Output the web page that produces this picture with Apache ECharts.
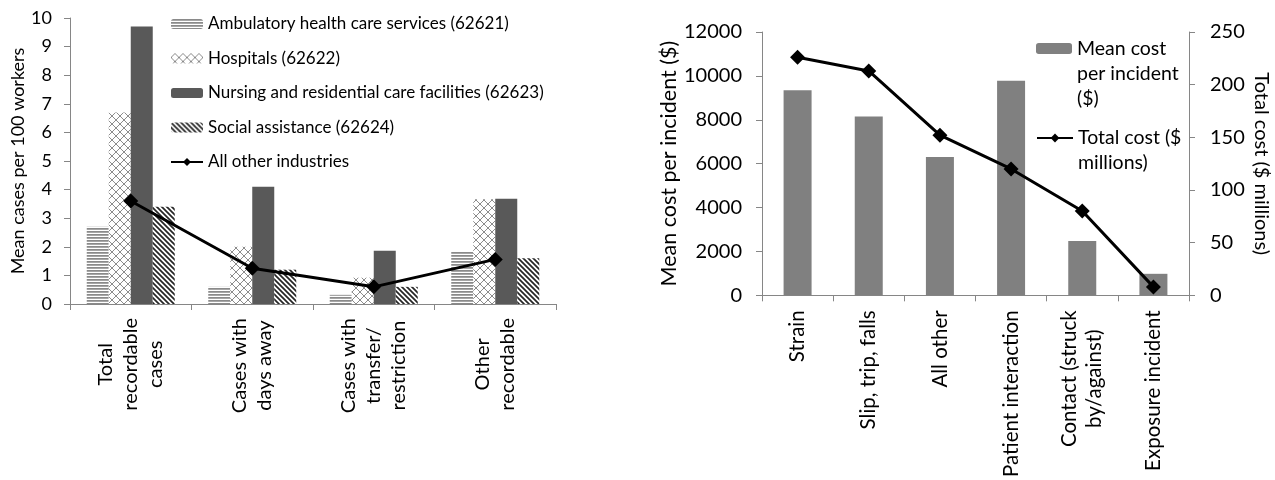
<!DOCTYPE html>
<html>
<head>
<meta charset="utf-8">
<script src="https://cdn.jsdelivr.net/npm/echarts@6/dist/echarts.min.js"></script>
<style>
html,body{margin:0;padding:0;background:#fff;}
#chart{width:1275px;height:480px;}
</style>
</head>
<body>
<div id="chart"></div>
<script>
// ---- Data: left chart ----
const leftCategories = ['Total\nrecordable\ncases', 'Cases with\ndays away', 'Cases with\ntransfer/\nrestriction', 'Other\nrecordable'];
const ambulatory = [2.7, 0.6, 0.32, 1.83];
const hospitals = [6.7, 2.0, 0.92, 3.66];
const nursing = [9.7, 4.1, 1.86, 3.68];
const social = [3.4, 1.2, 0.6, 1.6];
const allOther = [3.6, 1.25, 0.6, 1.56];
const leftTicks = { min: 0, max: 10, interval: 1 };

// ---- Data: right chart ----
const rightCategories = ['Strain', 'Slip, trip, falls', 'All other', 'Patient interaction', 'Contact (struck\nby/against)', 'Exposure incident'];
const meanCost = [9350, 8150, 6300, 9780, 2480, 980];
const totalCost = [226, 213, 152, 120, 80, 8];
const rightLeftTicks = { min: 0, max: 12000, interval: 2000 };
const rightRightTicks = { min: 0, max: 250, interval: 50 };

const seriesNames = {
  amb: 'Ambulatory health care services (62621)',
  hosp: 'Hospitals (62622)',
  nurs: 'Nursing and residential care facilities (62623)',
  soc: 'Social assistance (62624)',
  other: 'All other industries',
  mean: 'Mean cost per incident ($)',
  total: 'Total cost ($ millions)'
};
// Wrapped legend text; leading blank lines keep the first line level with the icon
const legendWrapped = {
  'Mean cost per incident ($)': '\n\nMean cost\nper incident\n($)',
  'Total cost ($ millions)': '\nTotal cost ($\nmillions)'
};

// ---- Patterns ----
function makePattern(w, h, draw) {
  const c = document.createElement('canvas');
  c.width = w; c.height = h;
  const ctx = c.getContext('2d');
  ctx.fillStyle = '#ffffff';
  ctx.fillRect(0, 0, w, h);
  draw(ctx, w, h);
  return { image: c, repeat: 'repeat' };
}
const patAmb = makePattern(4, 3, (ctx) => {
  ctx.fillStyle = '#8a8a8a'; ctx.fillRect(0, 0, 4, 1);
  ctx.fillStyle = '#a6a6a6'; ctx.fillRect(0, 1, 4, 1);
});
const patHosp = makePattern(8, 8, (ctx) => {
  ctx.strokeStyle = '#8c8c8c'; ctx.lineWidth = 1;
  ctx.beginPath();
  ctx.moveTo(0, 4); ctx.lineTo(4, 0); ctx.lineTo(8, 4); ctx.lineTo(4, 8); ctx.closePath();
  ctx.stroke();
});
const patSoc = makePattern(5, 5, (ctx) => {
  ctx.strokeStyle = '#262626'; ctx.lineWidth = 1.7;
  ctx.beginPath();
  ctx.moveTo(-1, -1); ctx.lineTo(6, 6);
  ctx.moveTo(-1, 4); ctx.lineTo(1, 6);
  ctx.moveTo(4, -1); ctx.lineTo(6, 1);
  ctx.stroke();
});

const axisGray = '#868686';
const FONT = 'Lato';

function wrapLabel(v) {
  return String(v).split('\n').map(l => '{c|' + l + '}').join('\n');
}
function xLabel(fontSize, margin) {
  return {
    rotate: 90, interval: 0, margin: margin, color: '#000',
    fontFamily: FONT, fontSize: fontSize,
    formatter: wrapLabel,
    rich: { c: { align: 'center', fontFamily: FONT, fontSize: fontSize, lineHeight: 25, color: '#000' } }
  };
}
function yLabel(fontSize, margin) {
  return { fontSize: fontSize, color: '#000', margin: margin, fontFamily: FONT, formatter: (v) => String(v) };
}
const axisLineStyle = { show: true, lineStyle: { color: axisGray, width: 1 } };
const axisTickStyle = { show: true, length: 6, lineStyle: { color: axisGray, width: 1 } };

const chart = echarts.init(document.getElementById('chart'));
const option = {
  animation: false,
  backgroundColor: '#fff',
  textStyle: { fontFamily: FONT },
  grid: [
    { left: 70, top: 18, width: 486, height: 286 },
    { left: 762, top: 32, width: 427, height: 265 }
  ],
  xAxis: [
    { type: 'category', gridIndex: 0, data: leftCategories, axisLine: axisLineStyle, axisTick: axisTickStyle, axisLabel: xLabel(20, 14) },
    { type: 'category', gridIndex: 1, data: rightCategories, axisLine: axisLineStyle, axisTick: axisTickStyle, axisLabel: xLabel(20.5, 15) }
  ],
  yAxis: [
    {
      type: 'value', gridIndex: 0, min: leftTicks.min, max: leftTicks.max, interval: leftTicks.interval,
      name: 'Mean cases per 100 workers', nameLocation: 'middle', nameRotate: 90, nameGap: 40,
      nameTextStyle: { fontSize: 18, color: '#000', fontFamily: FONT },
      axisLine: axisLineStyle, axisTick: axisTickStyle, splitLine: { show: false },
      axisLabel: yLabel(18, 18)
    },
    {
      type: 'value', gridIndex: 1, min: rightLeftTicks.min, max: rightLeftTicks.max, interval: rightLeftTicks.interval,
      name: 'Mean cost per incident ($)', nameLocation: 'middle', nameRotate: 90, nameGap: 82,
      nameTextStyle: { fontSize: 21.5, color: '#000', fontFamily: FONT },
      axisLine: axisLineStyle, axisTick: axisTickStyle, splitLine: { show: false },
      axisLabel: yLabel(20, 20)
    },
    {
      type: 'value', gridIndex: 1, position: 'right', min: rightRightTicks.min, max: rightRightTicks.max, interval: rightRightTicks.interval,
      name: 'Total cost ($ millions)', nameLocation: 'middle', nameRotate: -90, nameGap: 62,
      nameTextStyle: { fontSize: 20, color: '#000', fontFamily: FONT },
      axisLine: axisLineStyle, axisTick: axisTickStyle, splitLine: { show: false },
      axisLabel: yLabel(20, 21)
    }
  ],
  legend: [
    {
      orient: 'vertical', left: 170, top: 13, padding: 0, itemGap: 12.5,
      itemWidth: 32, itemHeight: 10,
      textStyle: { fontSize: 17, color: '#000', fontFamily: FONT, lineHeight: 22 },
      data: [seriesNames.amb, seriesNames.hosp, seriesNames.nurs, seriesNames.soc, seriesNames.other]
    },
    {
      orient: 'vertical', left: 1036, top: -14, padding: 0,
      itemWidth: 36, itemHeight: 11,
      formatter: (n) => legendWrapped[n] || n,
      textStyle: { fontSize: 19.5, color: '#000', fontFamily: FONT, lineHeight: 25 },
      data: [seriesNames.mean]
    },
    {
      orient: 'vertical', left: 1036, top: 100.5, padding: 0,
      itemWidth: 36, itemHeight: 11,
      formatter: (n) => legendWrapped[n] || n,
      textStyle: { fontSize: 19.5, color: '#000', fontFamily: FONT, lineHeight: 25 },
      data: [seriesNames.total]
    }
  ],
  series: [
    { name: seriesNames.amb, type: 'bar', xAxisIndex: 0, yAxisIndex: 0, data: ambulatory, barWidth: 22, barGap: '0%', itemStyle: { color: patAmb } },
    { name: seriesNames.hosp, type: 'bar', xAxisIndex: 0, yAxisIndex: 0, data: hospitals, barWidth: 22, barGap: '0%', itemStyle: { color: patHosp } },
    { name: seriesNames.nurs, type: 'bar', xAxisIndex: 0, yAxisIndex: 0, data: nursing, barWidth: 22, barGap: '0%', itemStyle: { color: '#595959' } },
    { name: seriesNames.soc, type: 'bar', xAxisIndex: 0, yAxisIndex: 0, data: social, barWidth: 22, barGap: '0%', itemStyle: { color: patSoc } },
    {
      name: seriesNames.other, type: 'line', xAxisIndex: 0, yAxisIndex: 0, data: allOther, z: 5,
      symbol: 'diamond', symbolSize: 15, lineStyle: { color: '#000', width: 3 }, itemStyle: { color: '#000' }
    },
    { name: seriesNames.mean, type: 'bar', xAxisIndex: 1, yAxisIndex: 1, data: meanCost, barWidth: 28, itemStyle: { color: '#808080' } },
    {
      name: seriesNames.total, type: 'line', xAxisIndex: 1, yAxisIndex: 2, data: totalCost, z: 5,
      symbol: 'diamond', symbolSize: 15, lineStyle: { color: '#000', width: 3 }, itemStyle: { color: '#000' }
    }
  ]
};
chart.setOption(option);
</script>
</body>
</html>
